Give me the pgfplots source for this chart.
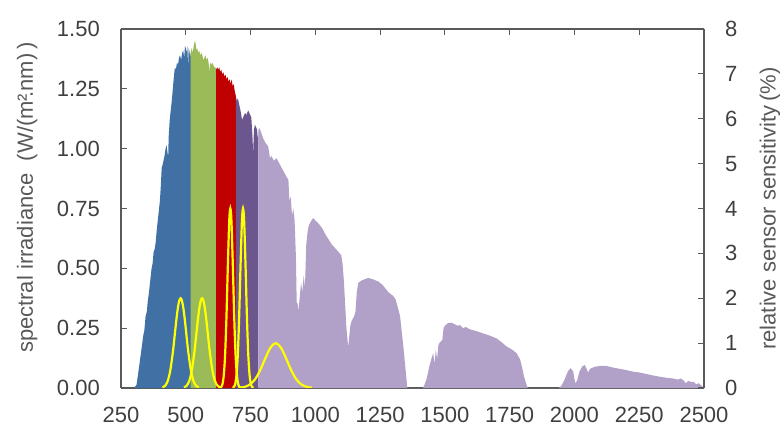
\documentclass[border=0pt]{standalone}
\usepackage{fontspec}
\setmainfont{Liberation Sans}
\usepackage{pgfplots}
\pgfplotsset{compat=1.18}
\definecolor{cblue}{RGB}{65,113,164}
\definecolor{cgreen}{RGB}{155,187,89}
\definecolor{cred}{RGB}{192,0,0}
\definecolor{cdpurple}{RGB}{107,86,142}
\definecolor{clpurple}{RGB}{177,160,199}
\definecolor{cyel}{RGB}{255,255,0}
\definecolor{axgray}{RGB}{89,89,89}
\definecolor{txgray}{RGB}{64,64,64}
\begin{document}
\begin{tikzpicture}
\pgfplotsset{
  common/.style={
    scale only axis, width=583pt, height=359pt,
    xmin=250, xmax=2500,
    font=\fontsize{22}{26}\selectfont,
    /pgf/number format/assume math mode=true,
    tick align=inside, major tick length=6pt,
    every tick/.style={axgray, line width=1.2pt},
    axis line style={axgray, line width=1.3pt},
    tick label style={txgray},
    label style={axgray},
  },
  yel/.style={cyel, line width=2.2pt, smooth, mark=none},
}
\begin{axis}[common,
  axis y line*=left,
  ymin=0, ymax=1.5,
  xtick={250,500,...,2500},
  ytick={0,0.25,0.5,0.75,1,1.25,1.5},
  xticklabel style={/pgf/number format/1000 sep={}, inner sep=0pt, anchor=north, yshift=-19pt},
  yticklabel style={/pgf/number format/.cd, fixed, fixed zerofill, precision=2, /tikz/.cd, inner sep=0pt, anchor=east, xshift=-21pt},
  ylabel={spectral irradiance\ \ (W/(m²\!.nm)\,)},
  ylabel style={at={(axis description cs:-0.161,0.53)}, anchor=center},
]
\addplot[fill=cblue, draw=none] table {
300 0
310 0.013
320 0.09
330 0.17
336 0.22
340 0.24
345 0.30
350 0.32
353 0.36
358 0.40
362 0.44
368 0.50
372 0.52
376 0.57
380 0.58
384 0.61
388 0.66
392 0.70
396 0.74
400 0.78
404 0.85
407 0.92
410 0.93
414 0.95
418 0.97
422 1.00
426 1.015
430 0.98
432 0.96
434 1.05
438 1.12
442 1.16
446 1.20
450 1.25
454 1.30
458 1.34
462 1.33
466 1.36
470 1.35
474 1.38
478 1.39
482 1.37
486 1.40
490 1.41
494 1.38
497 1.43
500 1.42
503 1.40
506 1.43
509 1.34
511 1.42
514 1.41
517 1.38
519.5 1.40
} \closedcycle;
\addplot[fill=cgreen, draw=none] table {
519 1.40
523 1.42
527 1.40
531 1.43
535 1.45
538 1.44
541 1.41
544 1.42
548 1.40
552 1.41
556 1.39
560 1.40
564 1.39
568 1.37
572 1.38
576 1.39
580 1.37
584 1.38
588 1.36
591 1.32
594 1.36
598 1.35
602 1.36
606 1.35
610 1.34
614 1.34
617.5 1.33
} \closedcycle;
\addplot[fill=cred, draw=none] table {
617 1.33
621 1.34
625 1.33
629 1.34
633 1.32
637 1.33
641 1.31
645 1.32
649 1.30
653 1.31
657 1.29
661 1.30
665 1.28
669 1.29
673 1.27
677 1.29
681 1.26
685 1.27
689 1.24
693.5 1.22
} \closedcycle;
\addplot[fill=cdpurple, draw=none] table {
693 1.22
697 1.20
701 1.21
705 1.19
709 1.17
713 1.15
717 1.12
721 1.13
725 1.14
729 1.15
733 1.14
737 1.15
741 1.16
745 1.15
749 1.14
753 1.13
757 1.06
760 0.98
763 1.08
767 1.10
771 1.09
775 1.08
778 1.04
780.5 1.07
} \closedcycle;
\addplot[fill=clpurple, draw=none] table {
780 1.08
785 1.085
790 1.07
800 1.04
810 1.02
818 1.01
825 0.96
830 0.97
840 0.95
850 0.96
860 0.94
870 0.92
880 0.90
890 0.88
896 0.87
900 0.78
905 0.80
910 0.72
915 0.75
920 0.70
925 0.55
928 0.36
932 0.35
935 0.32
940 0.38
945 0.44
950 0.40
955 0.47
960 0.42
965 0.60
970 0.65
975 0.68
985 0.70
992 0.71
1000 0.70
1010 0.69
1025 0.67
1040 0.64
1063 0.60
1080 0.58
1100 0.555
1105 0.52
1110 0.45
1115 0.35
1120 0.25
1127 0.17
1135 0.26
1140 0.28
1150 0.30
1155 0.32
1160 0.40
1166 0.44
1180 0.45
1204 0.46
1220 0.455
1243 0.445
1260 0.43
1282 0.40
1300 0.385
1310 0.37
1320 0.33
1327 0.30
1335 0.22
1340 0.17
1348 0.08
1355 0.0
1415 0
1420 0.01
1430 0.04
1440 0.09
1450 0.13
1455 0.145
1460 0.10
1465 0.16
1470 0.12
1475 0.18
1480 0.19
1490 0.20
1495 0.25
1500 0.26
1510 0.27
1526 0.273
1540 0.265
1550 0.26
1558 0.263
1570 0.25
1580 0.255
1597 0.245
1620 0.238
1648 0.228
1670 0.22
1700 0.207
1720 0.19
1739 0.173
1760 0.16
1777 0.145
1790 0.12
1797 0.09
1805 0.05
1816 0.01
1820 0
1940 0
1950 0.01
1960 0.03
1975 0.07
1985 0.083
1995 0.07
2003 0.02
2010 0.03
2020 0.07
2030 0.09
2040 0.096
2053 0.065
2060 0.08
2079 0.089
2100 0.092
2124 0.092
2150 0.085
2175 0.08
2200 0.075
2227 0.068
2250 0.065
2280 0.058
2300 0.053
2330 0.047
2360 0.042
2380 0.04
2400 0.035
2410 0.04
2420 0.033
2430 0.02
2440 0.03
2450 0.025
2460 0.026
2470 0.015
2480 0.02
2490 0.01
2500 0
} \closedcycle;
\end{axis}
\begin{axis}[common,
  axis y line*=right, axis x line=none,
  ymin=0, ymax=8, ytick={0,1,...,8},
  yticklabel style={inner sep=0pt, anchor=west, xshift=21pt},
  ylabel={relative sensor sensitivity\,(\%)},
  ylabel style={at={(axis description cs:1.113,0.5)}, anchor=center},
]
\addplot[yel] table {
410 0.013
420 0.049
430 0.151
440 0.383
450 0.789
455 1.048
460 1.323
465 1.586
470 1.804
475 1.949
480 2.0
485 1.949
490 1.804
495 1.586
500 1.323
505 1.048
510 0.789
520 0.383
530 0.151
540 0.049
550 0.013
};
\addplot[yel] table {
493 0.013
503 0.049
513 0.151
523 0.383
533 0.789
538 1.048
543 1.323
548 1.586
553 1.804
558 1.949
563 2.0
568 1.949
573 1.804
578 1.586
583 1.323
588 1.048
593 0.789
603 0.383
613 0.151
623 0.049
633 0.013
};
\addplot[yel] table {
632 0.005
637 0.025
642 0.097
647 0.302
652 0.766
657 1.58
662 2.65
667 3.61
669.5 3.90
672 4
674.5 3.90
677 3.61
682 2.65
687 1.58
692 0.766
697 0.302
702 0.097
707 0.025
712 0.005
};
\addplot[yel] table {
681 0.005
686 0.025
691 0.097
696 0.302
701 0.766
706 1.58
711 2.65
716 3.61
718.5 3.90
721 4
723.5 3.90
726 3.61
731 2.65
736 1.58
741 0.766
746 0.302
751 0.097
756 0.025
761 0.005
};
\addplot[yel] table {
707 0.006
727 0.024
747 0.076
767 0.191
787 0.395
807 0.662
827 0.902
847 1
867 0.902
887 0.662
907 0.395
927 0.191
947 0.076
967 0.024
987 0.006
};
\coordinate (bl) at (rel axis cs:0,0);
\coordinate (tr) at (rel axis cs:1,1);
\end{axis}
\pgfresetboundingbox
\path ([shift={(-121pt,-38pt)}]bl) rectangle ([shift={(76pt,29pt)}]tr);
\end{tikzpicture}
\end{document}
